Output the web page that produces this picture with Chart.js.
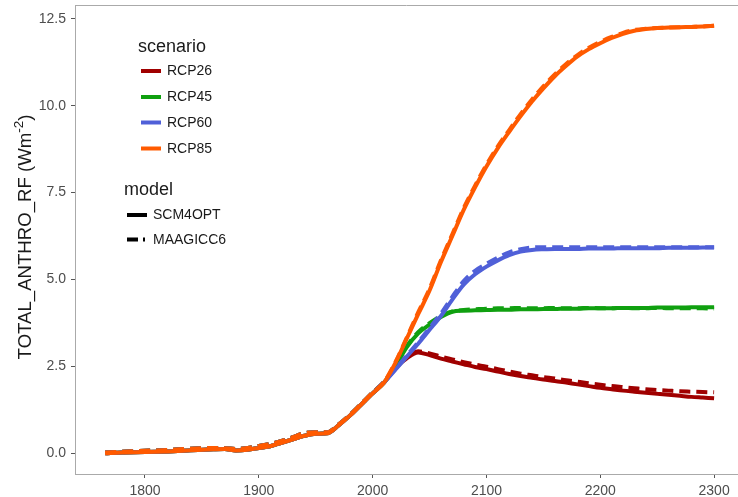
<!DOCTYPE html>
<html><head><meta charset="utf-8">
<script src="https://cdn.jsdelivr.net/npm/chart.js@4/dist/chart.umd.min.js"></script>
<style>html,body{margin:0;padding:0;background:#fff}canvas{display:block}</style>
</head><body>
<canvas id="c" width="738" height="497"></canvas>
<script>
// ---- data ----
const histYears = [1765,1780,1800,1820,1840,1860,1870,1880,1890,1900,1910,1920,1930,1940,1950,1960,1970,1980,1990,2000,2010];
const histSCM4OPT = [0.00,0.02,0.03,0.05,0.08,0.11,0.12,0.08,0.10,0.15,0.20,0.30,0.40,0.50,0.56,0.57,0.80,1.08,1.40,1.72,2.03];
const histMAGICC6 = [0.02,0.04,0.07,0.09,0.13,0.15,0.14,0.12,0.15,0.21,0.27,0.35,0.46,0.58,0.60,0.60,0.82,1.10,1.42,1.74,2.05];
const futureYears = [2020,2030,2040,2050,2060,2070,2080,2090,2100,2110,2120,2130,2140,2150,2160,2170,2180,2190,2200,2210,2220,2230,2240,2250,2260,2270,2280,2290,2300];
const rcp26SCM4OPT = [2.45,2.73,2.90,2.82,2.72,2.64,2.56,2.48,2.42,2.35,2.28,2.22,2.17,2.12,2.08,2.03,1.98,1.93,1.88,1.84,1.80,1.77,1.74,1.71,1.68,1.65,1.62,1.60,1.58];
const rcp26MAGICC6 = [2.47,2.76,2.93,2.87,2.78,2.70,2.62,2.55,2.49,2.42,2.35,2.29,2.24,2.19,2.15,2.10,2.06,2.01,1.97,1.93,1.90,1.87,1.84,1.82,1.80,1.78,1.77,1.76,1.75];
const rcp45SCM4OPT = [2.50,3.05,3.45,3.70,3.92,4.07,4.10,4.11,4.12,4.13,4.13,4.14,4.14,4.15,4.15,4.16,4.16,4.17,4.17,4.17,4.18,4.18,4.18,4.19,4.19,4.19,4.20,4.20,4.20];
const rcp45MAGICC6 = [2.52,3.08,3.48,3.74,3.95,4.08,4.12,4.14,4.16,4.17,4.17,4.18,4.17,4.17,4.18,4.17,4.17,4.18,4.17,4.17,4.18,4.17,4.17,4.18,4.17,4.17,4.17,4.17,4.16];
const rcp60SCM4OPT = [2.40,2.78,3.15,3.55,3.95,4.42,4.85,5.15,5.37,5.55,5.70,5.80,5.85,5.87,5.88,5.88,5.88,5.89,5.89,5.89,5.90,5.90,5.90,5.90,5.91,5.91,5.91,5.92,5.92];
const rcp60MAGICC6 = [2.42,2.81,3.19,3.60,4.02,4.50,4.95,5.25,5.45,5.63,5.78,5.87,5.92,5.93,5.93,5.93,5.93,5.93,5.93,5.93,5.93,5.93,5.93,5.93,5.93,5.93,5.93,5.93,5.93];
const rcp85SCM4OPT = [2.60,3.30,4.00,4.68,5.50,6.25,7.00,7.65,8.25,8.78,9.25,9.70,10.12,10.50,10.85,11.15,11.42,11.63,11.80,11.95,12.07,12.16,12.21,12.24,12.25,12.26,12.27,12.28,12.30];
const rcp85MAGICC6 = [2.62,3.33,4.05,4.73,5.55,6.30,7.05,7.70,8.30,8.83,9.30,9.76,10.18,10.56,10.90,11.20,11.46,11.67,11.84,11.98,12.10,12.18,12.22,12.24,12.25,12.26,12.27,12.28,12.30];

const scenarios = ['RCP26','RCP45','RCP60','RCP85'];
const scenarioColors = ['#a00000','#10a010','#5060d8','#ff5a00'];
const models = ['SCM4OPT','MAAGICC6'];
const xTicks = [1800,1900,2000,2100,2200,2300];
const yTicks = [0,2.5,5,7.5,10,12.5];
const yTitle = 'TOTAL_ANTHRO_RF (Wm';
const yTitleSup = '-2';

// ---- build datasets ----
const seriesTable = {
  RCP26: [rcp26SCM4OPT, rcp26MAGICC6],
  RCP45: [rcp45SCM4OPT, rcp45MAGICC6],
  RCP60: [rcp60SCM4OPT, rcp60MAGICC6],
  RCP85: [rcp85SCM4OPT, rcp85MAGICC6]
};
const hist = [histSCM4OPT, histMAGICC6];
const datasets = [];
scenarios.forEach((s, si) => {
  models.forEach((m, mi) => {
    const vals = hist[mi].concat(seriesTable[s][mi]);
    const yrs = histYears.concat(futureYears);
    datasets.push({
      label: s + ' ' + m,
      data: yrs.map((y, i) => ({x: y, y: vals[i]})),
      borderColor: scenarioColors[si],
      backgroundColor: scenarioColors[si],
      borderWidth: 4,
      borderDash: mi === 1 ? [11, 6] : [],
      pointRadius: 0,
      fill: false,
      cubicInterpolationMode: 'monotone',
      borderCapStyle: 'butt',
      borderJoinStyle: 'round',
      order: 20 - (si * 2 + mi)
    });
  });
});

const FONT = '"Liberation Sans", Arial, Helvetica, sans-serif';

const extras = {
  id: 'extras',
  afterDraw(chart) {
    const ctx = chart.ctx;
    const a = chart.chartArea;
    ctx.save();
    // top border
    ctx.strokeStyle = '#aaaaaa';
    ctx.lineWidth = 1;
    ctx.beginPath();
    ctx.moveTo(a.left, a.top + 0.5);
    ctx.lineTo(a.right, a.top + 0.5);
    ctx.stroke();

    // y axis title
    ctx.save();
    ctx.translate(31, 237);
    ctx.rotate(-Math.PI / 2);
    ctx.fillStyle = '#1a1a1a';
    ctx.font = '18.6px ' + FONT;
    ctx.textBaseline = 'alphabetic';
    const w1 = ctx.measureText(yTitle).width;
    ctx.font = '13.5px ' + FONT;
    const w2 = ctx.measureText(yTitleSup).width;
    ctx.font = '18.6px ' + FONT;
    const w3 = ctx.measureText(')').width;
    const total = w1 + w2 + w3;
    let x0 = -total / 2;
    ctx.textAlign = 'left';
    ctx.fillText(yTitle, x0, 0);
    ctx.font = '13.5px ' + FONT;
    ctx.fillText(yTitleSup, x0 + w1, -8);
    ctx.font = '18.6px ' + FONT;
    ctx.fillText(')', x0 + w1 + w2, 0);
    ctx.restore();

    // legend: scenario
    ctx.fillStyle = '#1a1a1a';
    ctx.textAlign = 'left';
    ctx.textBaseline = 'middle';
    ctx.font = '18px ' + FONT;
    ctx.fillText('scenario', 138, 47);
    const rows = [71, 97, 122.5, 148.5];
    ctx.font = '14px ' + FONT;
    scenarios.forEach((s, i) => {
      ctx.strokeStyle = scenarioColors[i];
      ctx.lineWidth = 4;
      ctx.setLineDash([]);
      ctx.beginPath();
      ctx.moveTo(141, rows[i]);
      ctx.lineTo(161, rows[i]);
      ctx.stroke();
      ctx.fillStyle = '#1a1a1a';
      ctx.fillText(s, 167, rows[i] + 0.5);
    });
    // legend: model
    ctx.font = '18px ' + FONT;
    ctx.fillText('model', 124, 190.5);
    const mrows = [215, 239.5];
    ctx.font = '14px ' + FONT;
    models.forEach((m, i) => {
      ctx.strokeStyle = '#000000';
      ctx.lineWidth = 4;
      ctx.setLineDash(i === 1 ? [11, 5, 2, 20] : []);
      ctx.beginPath();
      ctx.moveTo(127, mrows[i]);
      ctx.lineTo(147, mrows[i]);
      ctx.stroke();
      ctx.setLineDash([]);
      ctx.fillStyle = '#1a1a1a';
      ctx.fillText(m, 153, mrows[i] + 0.5);
    });
    ctx.restore();
  }
};

new Chart(document.getElementById('c'), {
  type: 'line',
  data: { datasets },
  options: {
    responsive: false,
    devicePixelRatio: 1,
    animation: false,
    layout: { padding: { top: 5, right: 0, left: 0, bottom: 0 } },
    plugins: { legend: { display: false }, tooltip: { enabled: false } },
    scales: {
      x: {
        type: 'linear',
        min: 1738.5,
        max: 2321,
        afterBuildTicks: s => { s.ticks = xTicks.map(v => ({value: v})); },
        afterFit: s => { s.height = 23; s.paddingLeft = 0; s.paddingRight = 0; },
        ticks: { color: '#4d4d4d', font: { family: FONT, size: 14 }, padding: 5, maxRotation: 0, autoSkip: false,
                 callback: v => String(v) },
        grid: { display: true, drawOnChartArea: false, drawTicks: true, tickLength: 4, color: '#555555' },
        border: { display: true, color: '#aaaaaa', width: 1 }
      },
      y: {
        type: 'linear',
        min: -0.6,
        max: 12.9,
        afterBuildTicks: s => { s.ticks = yTicks.map(v => ({value: v})); },
        afterFit: s => { s.width = 75; s.paddingTop = 0; s.paddingBottom = 0; },
        ticks: { color: '#4d4d4d', font: { family: FONT, size: 14 }, padding: 5, autoSkip: false,
                 callback: v => Number(v).toFixed(1) },
        grid: { display: true, drawOnChartArea: false, drawTicks: true, tickLength: 4, color: '#555555' },
        border: { display: true, color: '#aaaaaa', width: 1 }
      }
    }
  },
  plugins: [extras]
});
</script>
</body></html>
